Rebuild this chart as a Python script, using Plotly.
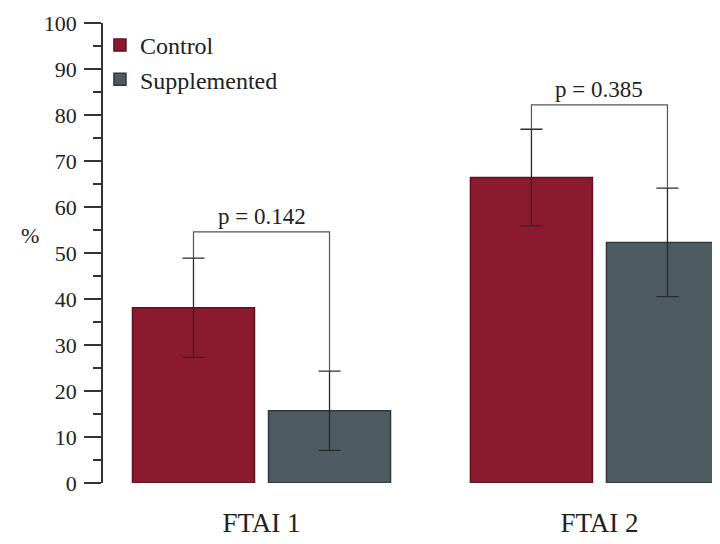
import plotly.graph_objects as go

categories = ["FTAI 1", "FTAI 2"]
control = [38.1, 66.4]
control_err = [10.8, 10.5]
supplemented = [15.7, 52.3]
supplemented_err = [8.6, 11.8]
p_labels = ["p = 0.142", "p = 0.385"]
bracket_y = [54.6, 82.2]
y_ticks = [0, 10, 20, 30, 40, 50, 60, 70, 80, 90, 100]

BARGAP = 0.195
BARGROUPGAP = 0.103
offset = (1 - BARGAP) / 4  # centre of each bar relative to category

fig = go.Figure()
fig.add_trace(go.Bar(
    name="Control", x=categories, y=control, legendgroup="c",
    marker=dict(color="#8B1A2E", line=dict(color="#5E1220", width=1.5)),
    error_y=dict(type="data", array=control_err, color="#2a2a2a", thickness=1.3, width=11),
))
fig.add_trace(go.Bar(
    name="Supplemented", x=categories, y=supplemented, legendgroup="s",
    marker=dict(color="#4E5B62", line=dict(color="#2E383D", width=1.5)),
    error_y=dict(type="data", array=supplemented_err, color="#2a2a2a", thickness=1.3, width=11),
))

for i, cat in enumerate(categories):
    x_left = i - offset
    x_right = i + offset
    top_l = control[i] + control_err[i]
    top_r = supplemented[i] + supplemented_err[i]
    fig.add_trace(go.Scatter(
        x=[x_left, x_left, x_right, x_right],
        y=[top_l, bracket_y[i], bracket_y[i], top_r],
        mode="lines", line=dict(color="#555555", width=1.2),
        showlegend=False, hoverinfo="skip", xaxis="x2",
    ))
    fig.add_annotation(
        x=i, y=bracket_y[i], xref="x2", yref="y", text=p_labels[i],
        showarrow=False, yanchor="bottom", yshift=1,
        font=dict(family="Liberation Serif", size=23, color="#222222"),
    )

fig.add_annotation(
    x=-0.12, y=(483 - 235) / 4.6, xref="paper", yref="y", text="%",
    xanchor="center", showarrow=False,
    font=dict(family="Liberation Serif", size=22, color="#222222"),
)

xr = [-0.469, 1.333]
fig.update_layout(
    width=704, height=528,
    margin=dict(l=95, r=0, t=15, b=53, autoexpand=False),
    paper_bgcolor="white", plot_bgcolor="white",
    barmode="group", bargap=BARGAP, bargroupgap=BARGROUPGAP,
    font=dict(family="Liberation Serif", color="#222222"),
    showlegend=True,
    legend=dict(
        x=-0.005, y=1.0, xanchor="left", yanchor="top",
        font=dict(family="Liberation Serif", size=24, color="#222222"),
        bgcolor="rgba(0,0,0,0)", itemwidth=30, tracegroupgap=0,
    ),
    xaxis=dict(
        type="category", range=xr, showline=False, ticks="",
        tickfont=dict(family="Liberation Serif", size=27, color="#222222"),
        ticklabelstandoff=21, showgrid=False, zeroline=False, automargin=False,
    ),
    xaxis2=dict(
        overlaying="x", range=xr, visible=False, showgrid=False,
    ),
    yaxis=dict(
        range=[0, 100], tickvals=y_ticks, showgrid=False, zeroline=False,
        showline=True, linecolor="#333333", linewidth=1.5, automargin=False,
        ticks="outside", ticklen=17, tickwidth=1.5, tickcolor="#333333",
        minor=dict(dtick=5, ticks="outside", ticklen=8, tickwidth=1.5, tickcolor="#333333"),
        tickfont=dict(family="Liberation Serif", size=22, color="#222222"),
        ticklabelstandoff=3,
    ),
)

fig.write_html("out.html")
